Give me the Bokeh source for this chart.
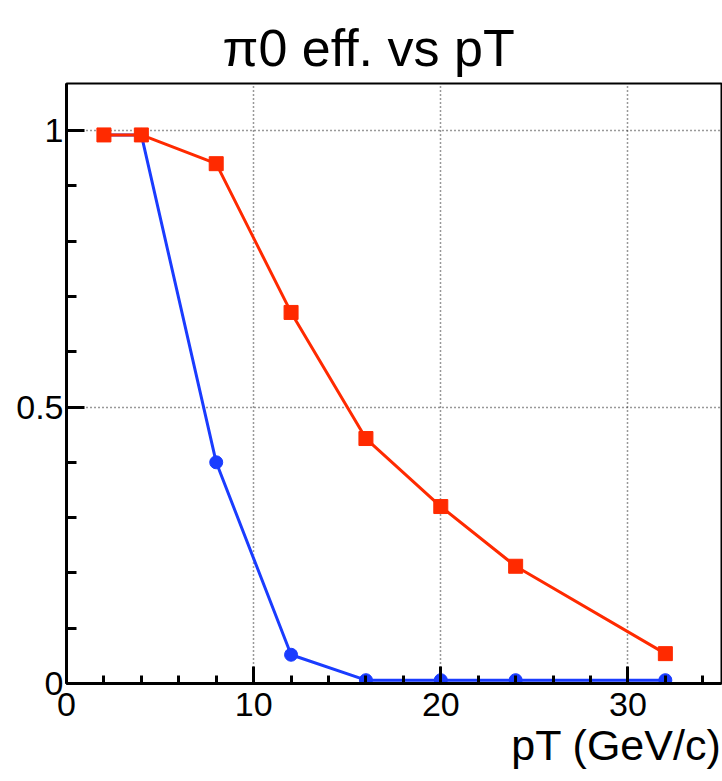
from bokeh.plotting import figure
from bokeh.models import Range1d, FixedTicker, Title
from bokeh.embed import file_html
from bokeh.resources import INLINE

# Data
pt = [2, 4, 8, 12, 16, 20, 24, 32]
eff_red = [0.992, 0.992, 0.940, 0.671, 0.443, 0.320, 0.212, 0.054]
eff_blue = [0.992, 0.992, 0.400, 0.052, 0.006, 0.006, 0.006, 0.006]

x_major = [0, 10, 20, 30]
x_minor = [2, 4, 6, 8, 12, 14, 16, 18, 22, 24, 26, 28, 32, 34]
y_major = [0, 0.5, 1]
y_minor = [0.1, 0.2, 0.3, 0.4, 0.6, 0.7, 0.8, 0.9, 1.0]
y_labels = {0: "0", 0.5: "0.5", 1: "1"}
title_text = "π0 eff. vs pT"
x_title = "pT (GeV/c)"

FONT = "Liberation Sans"

p = figure(width=722, height=781, output_backend="svg", toolbar_location=None,
           x_range=Range1d(0, 35), y_range=Range1d(0, 1.085),
           min_border_left=66, min_border_right=1, min_border_top=83,
           min_border_bottom=98)
p.background_fill_color = "white"
p.border_fill_color = "white"
p.outline_line_color = "black"
p.outline_line_width = 2

p.title.text = title_text
p.title.align = "left"
p.title.offset = 156
p.title.vertical_align = "top"
p.title.text_font = FONT
p.title.text_font_size = "52px"
p.title.text_font_style = "normal"
p.title.text_color = "black"
p.title.standoff = 10

xa = p.xaxis[0]
xa.ticker = FixedTicker(ticks=x_major, minor_ticks=x_minor)
xa.major_tick_in = 17
xa.major_tick_out = 0
xa.minor_tick_in = 8
xa.minor_tick_out = 0
xa.axis_line_width = 3
xa.major_tick_line_width = 3
xa.minor_tick_line_width = 3
xa.major_label_text_font = FONT
xa.major_label_text_font_size = "34px"
xa.major_label_text_color = "black"
xa.major_label_standoff = 9

ya = p.yaxis[0]
ya.ticker = FixedTicker(ticks=y_major, minor_ticks=y_minor)
ya.major_tick_in = 18
ya.major_tick_out = 0
ya.minor_tick_in = 10
ya.minor_tick_out = 0
ya.axis_line_width = 3
ya.major_tick_line_width = 3
ya.minor_tick_line_width = 3
ya.major_label_text_font = FONT
ya.major_label_text_font_size = "34px"
ya.major_label_text_color = "black"
ya.major_label_standoff = 3
ya.major_label_overrides = y_labels

p.xgrid.grid_line_color = "#333333"
p.ygrid.grid_line_color = "#333333"
p.xgrid.grid_line_dash = "1 3"
p.ygrid.grid_line_dash = "1 3"
p.xgrid.grid_line_width = 1.5
p.ygrid.grid_line_width = 1.5

p.add_layout(Title(text=x_title, align="right", text_font=FONT,
                   text_font_size="43px", text_font_style="normal",
                   text_color="black", standoff=0), "below")

blue = "#1a3cff"
red = "#ff2a00"
p.line(pt, eff_blue, line_color=blue, line_width=3)
p.scatter(pt, eff_blue, marker="circle", size=13, fill_color=blue, line_color=blue)
p.line(pt, eff_red, line_color=red, line_width=3)
p.scatter(pt, eff_red, marker="square", size=14, fill_color=red, line_color=red)

open("out.html", "w").write(file_html(p, INLINE))
